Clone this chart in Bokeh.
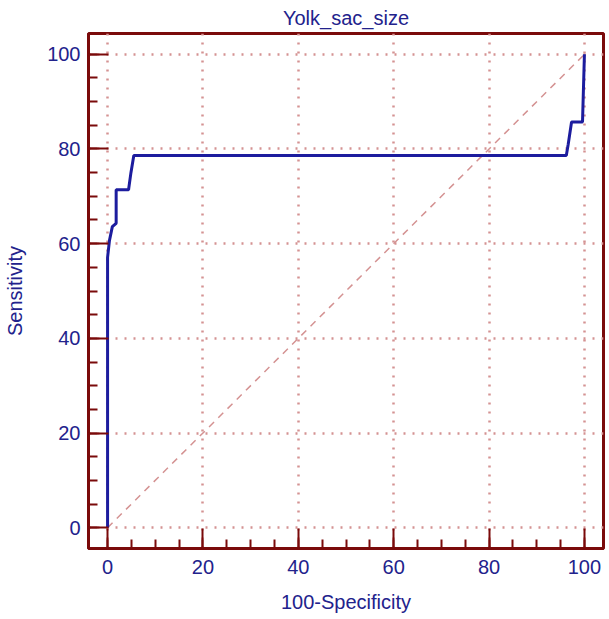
from bokeh.plotting import figure
from bokeh.models import SingleIntervalTicker, Range1d
from bokeh.embed import file_html
from bokeh.resources import INLINE

# ROC curve points
fpr = [0, 0, 0.4, 1.0, 1.8, 1.8, 4.4, 4.9, 5.5, 96.2, 96.6, 97.3, 99.6, 100]
sens = [0, 57.1, 60.7, 63.6, 64.3, 71.4, 71.4, 75.0, 78.6, 78.6, 81.0, 85.7, 85.7, 100]
diag_x = [0, 100]
diag_y = [0, 100]

NAVY = "#22228c"
CURVE = "#1c1c9e"
FRAME = "#7a0a0a"
GRID = "#d49292"
FONT = "Liberation Sans"

p = figure(width=605, height=615, output_backend="svg", toolbar_location=None,
           x_range=Range1d(-4, 104), y_range=Range1d(-4.4, 104.4),
           min_border_left=88, min_border_right=2, min_border_top=33, min_border_bottom=67,
           title="Yolk_sac_size")

p.title.align = "center"
p.title.text_color = NAVY
p.title.text_font = FONT
p.title.text_font_size = "20px"
p.title.text_font_style = "normal"
p.title.standoff = 9

p.outline_line_color = FRAME
p.outline_line_width = 3
p.outline_line_alpha = 1

for ax in (p.xaxis[0], p.yaxis[0]):
    ax.ticker = SingleIntervalTicker(interval=20, num_minor_ticks=4)
    ax.axis_line_color = FRAME
    ax.axis_line_width = 3
    ax.major_tick_line_color = FRAME
    ax.major_tick_line_width = 2
    ax.minor_tick_line_color = FRAME
    ax.minor_tick_line_width = 2
    ax.major_tick_in = 20
    ax.major_tick_out = 0
    ax.minor_tick_in = 9
    ax.minor_tick_out = 0
    ax.major_label_text_color = NAVY
    ax.major_label_text_font = FONT
    ax.major_label_text_font_size = "20px"
    ax.axis_label_text_color = NAVY
    ax.axis_label_text_font = FONT
    ax.axis_label_text_font_size = "20px"
    ax.axis_label_text_font_style = "normal"

p.xaxis.axis_label = "100-Specificity"
p.yaxis.axis_label = "Sensitivity"
p.xaxis.major_label_standoff = 11
p.xaxis.axis_label_standoff = 14
p.yaxis.major_label_standoff = 8
p.yaxis.axis_label_standoff = 18

for g in (p.xgrid[0], p.ygrid[0]):
    g.grid_line_color = GRID
    g.grid_line_width = 2.5
    g.grid_line_dash = "2 7"
    g.grid_line_alpha = 1

p.line(diag_x, diag_y, line_color=GRID, line_width=1.5, line_dash="7 6")
p.line(fpr, sens, line_color=CURVE, line_width=3)

open("out.html", "w").write(file_html(p, INLINE))
